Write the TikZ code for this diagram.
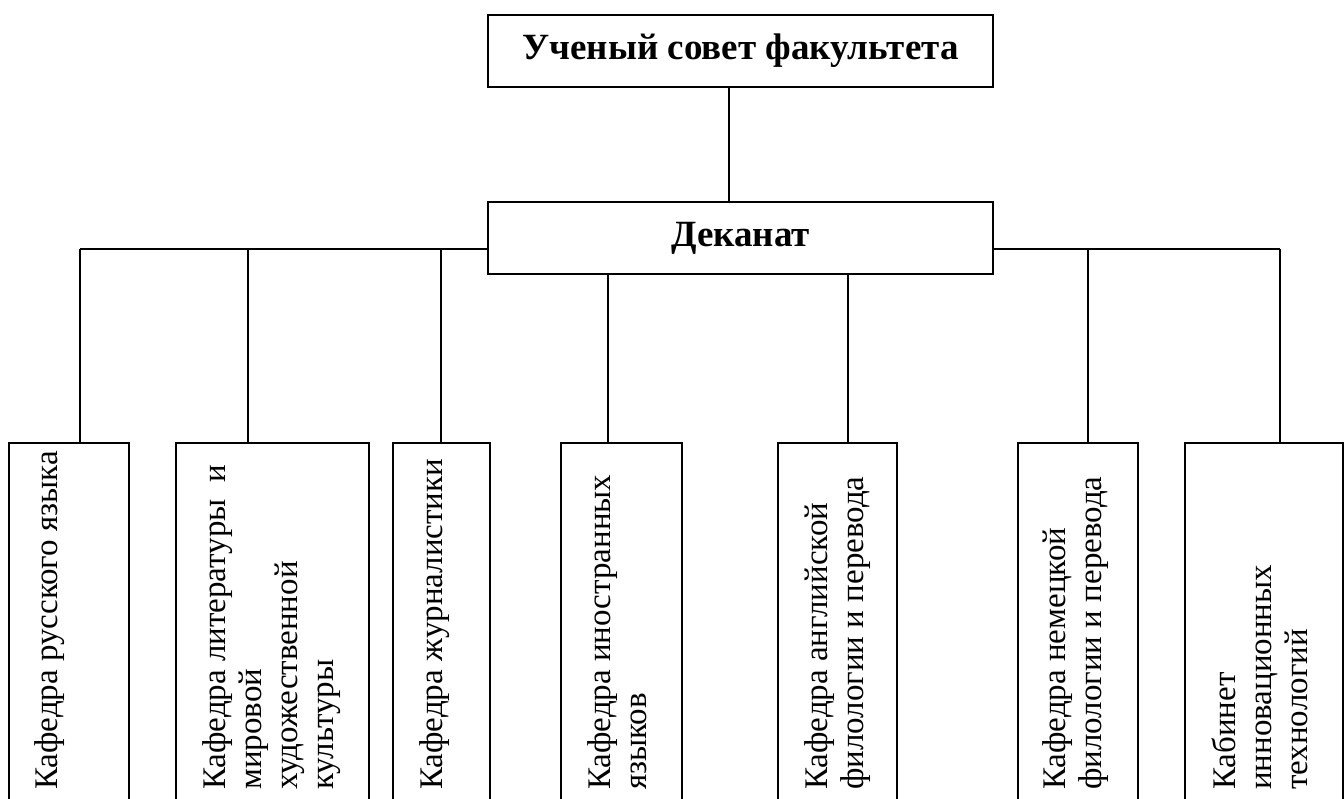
\documentclass[tikz,border=0pt]{standalone}
\usepackage{fontspec}
\setmainfont{Liberation Serif}
\usepackage{tikz}

\tikzset{
	headbox/.style={draw, line width=1.6pt, minimum width=505pt, minimum height=72pt, inner sep=0pt, font=\bfseries\fontsize{37}{42}\selectfont},
	kafbox/.style={draw, line width=1.6pt, anchor=north west, minimum height=420pt, inner sep=0pt},
	kaftext/.style={rotate=90, anchor=north west, align=left, inner sep=0pt, font=\fontsize{33}{36}\selectfont}
}

\begin{document}
\begin{tikzpicture}
	[x=1pt,y=-1pt]
	\useasboundingbox (0,0) rectangle (1344,799);
	\clip (0,0) rectangle (1344,799);

	\node[headbox] (sovet) at (740.5,51) {Ученый совет факультета};
	\node[headbox] (dekanat) at (740.5,238) {Деканат};

	\node[kafbox, minimum width=120pt] (k1) at (8,442) {};
	\node[kafbox, minimum width=193pt] (k2) at (175,442) {};
	\node[kafbox, minimum width=97pt] (k3) at (392,442) {};
	\node[kafbox, minimum width=121pt] (k4) at (560,442) {};
	\node[kafbox, minimum width=119pt] (k5) at (777,442) {};
	\node[kafbox, minimum width=120pt] (k6) at (1017,442) {};
	\node[kafbox, minimum width=158pt] (k7) at (1184,442) {};

	\node[kaftext] (t1) at (34,790) {Кафедра русского языка};
	\node[kaftext] (t2) at (202,790) {Кафедра литературы \ и\\мировой\\художественной\\культуры};
	\node[kaftext] (t3) at (419,790) {Кафедра журналистики};
	\node[kaftext] (t4) at (587,790) {Кафедра иностранных\\языков};
	\node[kaftext] (t5) at (804,790) {Кафедра английской\\филологии и перевода};
	\node[kaftext] (t6) at (1042,790) {Кафедра немецкой\\филологии и перевода};
	\node[kaftext] (t7) at (1212,790) {Кабинет\\инновационных\\технологий};

	% bus line
	\coordinate (c0) at (729,0);
	\coordinate (b1) at (80,249);
	\coordinate (b2) at (248,249);
	\coordinate (b3) at (441,249);
	\coordinate (b4) at (608,249);
	\coordinate (b5) at (848,249);
	\coordinate (b6) at (1088,249);
	\coordinate (b7) at (1280,249);

	\begin{scope}[line width=1.6pt]
	\draw (sovet.south -| c0) -- (dekanat.north -| c0);
	\draw (b1) -- (dekanat.west |- b1);
	\draw (dekanat.east |- b7) -- (b7);
	\foreach \i in {1,2,3,6,7}
	\draw (b\i) -- (k\i.north -| b\i);
	\foreach \i in {4,5}
	\draw (dekanat.south -| b\i) -- (k\i.north -| b\i);
	\end{scope}
\end{tikzpicture}
\end{document}
